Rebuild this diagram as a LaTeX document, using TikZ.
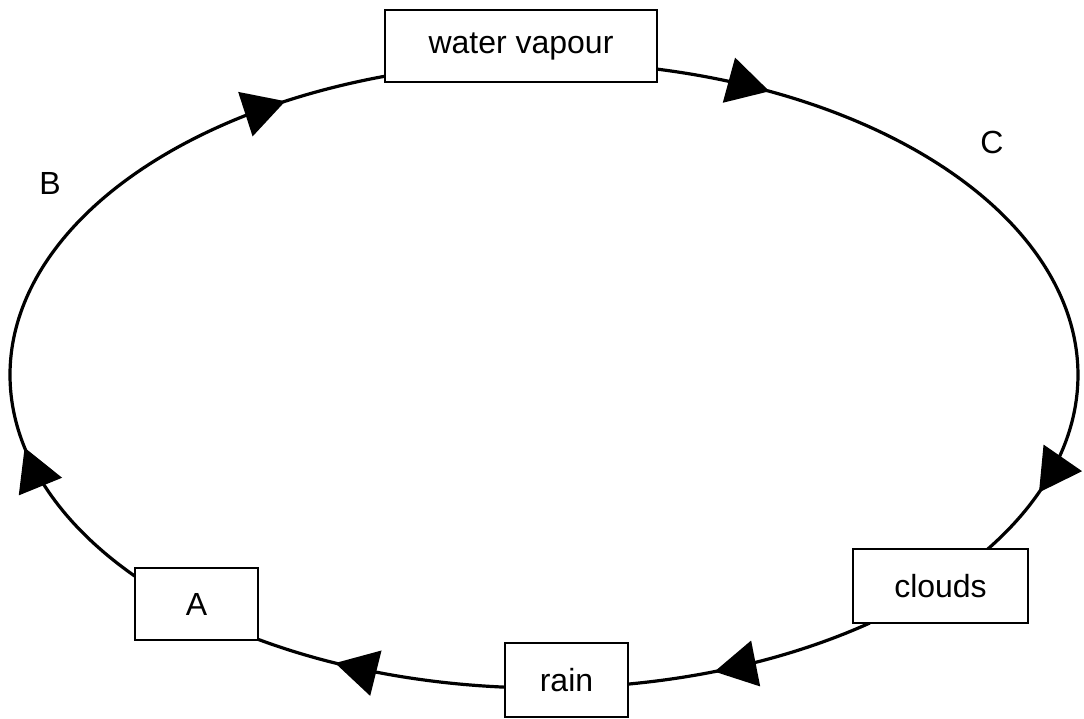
\documentclass[tikz,border=0pt]{standalone}
\usepackage{fontspec}
\setmainfont{Liberation Sans}
\usetikzlibrary{arrows.meta,decorations.markings,calc}
\begin{document}
\begin{tikzpicture}[x=1pt,y=-1pt,
  box/.style={draw,line width=2.8pt,fill=white,inner sep=0pt,font=\fontsize{32}{38}\selectfont},
  lbl/.style={font=\fontsize{32}{38}\selectfont},
  flow/.style={line width=3.2pt},
  tip/.style={postaction={decorate,decoration={markings,mark=at position #1 with {\arrow{Triangle[length=42pt,width=46pt]}}}}}]
\useasboundingbox (0,0) rectangle (1084,718);
\coordinate (O) at (544,375);
\coordinate (wvR) at ($(O)+(-77.8:534 and 313)$);
\coordinate (clT) at ($(O)+(33.8:534 and 313)$);
\coordinate (clB) at ($(O)+(52.4:534 and 313)$);
\coordinate (raR) at ($(O)+(81:534 and 313)$);
\coordinate (raL) at ($(O)+(94.2:534 and 313)$);
\coordinate (aR) at ($(O)+(122.4:534 and 313)$);
\coordinate (aL) at ($(O)+(140:534 and 313)$);
\coordinate (wvL) at ($(O)+(252.7:534 and 313)$);
% connectors (clockwise flow)
\draw[flow,tip=0.15,tip=0.9] (wvR) arc[start angle=-77.8,end angle=33.8,x radius=534,y radius=313];
\draw[flow,tip=0.65] (clB) arc[start angle=52.4,end angle=81,x radius=534,y radius=313];
\draw[flow,tip=0.68] (raL) arc[start angle=94.2,end angle=122.4,x radius=534,y radius=313];
\draw[flow,tip=0.225,tip=0.865] (aL) arc[start angle=140,end angle=252.7,x radius=534,y radius=313];
% boxes
\node[box,minimum width=272pt,minimum height=72pt] (wv) at (521,46) {water vapour};
\node[box,minimum width=123pt,minimum height=72pt] (A) at (196.5,604) {A};
\node[box,minimum width=123pt,minimum height=74pt] (rain) at (566.5,680) {rain};
\node[box,minimum width=175pt,minimum height=74pt] (clouds) at (940.5,586) {clouds};
\node[lbl] (B) at (50,183) {B};
\node[lbl] (C) at (992,142) {C};
\end{tikzpicture}
\end{document}
